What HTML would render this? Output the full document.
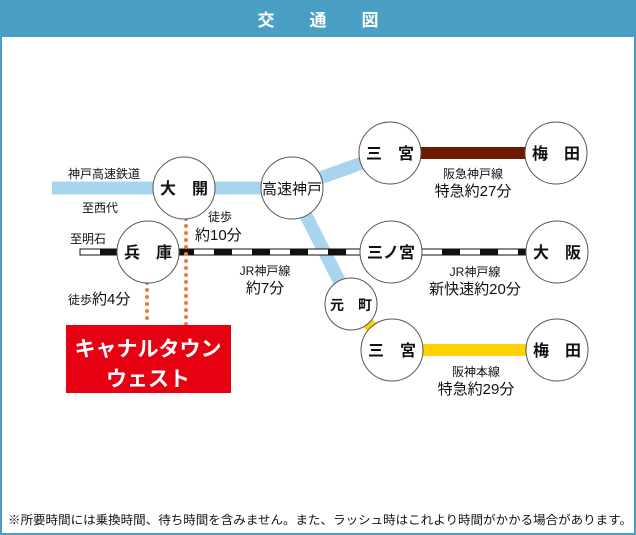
<!DOCTYPE html>
<html><head><meta charset="utf-8"><style>
html,body{margin:0;padding:0;width:636px;height:535px;overflow:hidden;background:#fff}
svg{display:block}
text{font-family:"Liberation Sans","Noto Sans CJK JP",sans-serif;fill:#111}
</style></head><body>
<svg width="636" height="535" viewBox="0 0 636 535">
<rect x="0" y="0" width="636" height="535" fill="#4a9fc4"/>
<rect x="2" y="37" width="632" height="496" fill="#fff"/>
<g font-size="17" font-weight="bold" text-anchor="middle" style="fill:#fff">
<text x="266" y="26" style="fill:#fff">交</text>
<text x="318" y="26" style="fill:#fff">通</text>
<text x="370" y="26" style="fill:#fff">図</text>
</g>

<!-- blue lines -->
<g stroke="#a8d4ee" stroke-width="13" fill="none">
<line x1="52" y1="188" x2="292" y2="188"/>
<line x1="292" y1="188" x2="390" y2="153"/>
<line x1="292" y1="188" x2="351" y2="304"/>
</g>
<line x1="351" y1="304" x2="392" y2="350" stroke="#ffd200" stroke-width="12"/>
<line x1="390" y1="153" x2="556" y2="153" stroke="#6b1a00" stroke-width="12"/>
<line x1="392" y1="350" x2="557" y2="350" stroke="#ffd200" stroke-width="12"/>

<!-- JR line -->
<rect x="80" y="249" width="452" height="6" fill="#fff" stroke="#111" stroke-width="1"/>
<line x1="80" y1="252" x2="532" y2="252" stroke="#111" stroke-width="6" stroke-dasharray="18 20" stroke-dashoffset="-20"/>

<!-- walking dots -->
<g stroke="#f07a3c" stroke-width="4" stroke-linecap="round" stroke-dasharray="0 7" fill="none">
<line x1="147" y1="283" x2="147" y2="325"/>
<line x1="186" y1="219" x2="186" y2="325"/>
</g>

<!-- circles -->
<g fill="#fff" stroke="#555" stroke-width="1">
<circle cx="184" cy="188" r="31"/>
<circle cx="292" cy="188" r="31"/>
<circle cx="148" cy="252" r="31"/>
<circle cx="351" cy="304" r="26"/>
<circle cx="390" cy="153" r="31"/>
<circle cx="556" cy="153" r="31"/>
<circle cx="391" cy="252" r="31"/>
<circle cx="557" cy="252" r="31"/>
<circle cx="392" cy="350" r="31"/>
<circle cx="557" cy="350" r="31"/>
</g>
<g font-size="16" font-weight="bold" text-anchor="middle">
<text x="184" y="194">大　開</text>
<text x="292" y="194" font-weight="normal" font-size="15">高速神戸</text>
<text x="148" y="258">兵　庫</text>
<text x="351" y="310" font-size="14">元　町</text>
<text x="390" y="159">三　宮</text>
<text x="556" y="159">梅　田</text>
<text x="391" y="258">三ノ宮</text>
<text x="557" y="258">大　阪</text>
<text x="392" y="356">三　宮</text>
<text x="557" y="356">梅　田</text>
</g>

<g font-size="12">
<text x="68" y="178">神戸高速鉄道</text>
<text x="82" y="212">至西代</text>
<text x="70" y="243">至明石</text>
<text x="208" y="221">徒歩</text>
<text x="195" y="240" font-size="15">約10分</text>
<text x="68" y="304">徒歩<tspan font-size="15">約4分</tspan></text>
<text x="265" y="275" text-anchor="middle">JR神戸線</text>
<text x="265" y="293" text-anchor="middle" font-size="15">約7分</text>
<text x="473" y="178" text-anchor="middle">阪急神戸線</text>
<text x="473" y="196" text-anchor="middle" font-size="15">特急約27分</text>
<text x="475" y="276" text-anchor="middle">JR神戸線</text>
<text x="475" y="294" text-anchor="middle" font-size="15">新快速約20分</text>
<text x="476" y="376" text-anchor="middle">阪神本線</text>
<text x="476" y="394" text-anchor="middle" font-size="15">特急約29分</text>
</g>

<rect x="66" y="325" width="165" height="68" fill="#e60012"/>
<text x="148" y="356" text-anchor="middle" font-size="21" font-weight="bold" style="fill:#fff">キャナルタウン</text>
<text x="148" y="386" text-anchor="middle" font-size="21" font-weight="bold" style="fill:#fff">ウェスト</text>

<text x="8" y="524" font-size="12" textLength="624" lengthAdjust="spacingAndGlyphs">※所要時間には乗換時間、待ち時間を含みません。また、ラッシュ時はこれより時間がかかる場合があります。</text>
</svg>
</body></html>
